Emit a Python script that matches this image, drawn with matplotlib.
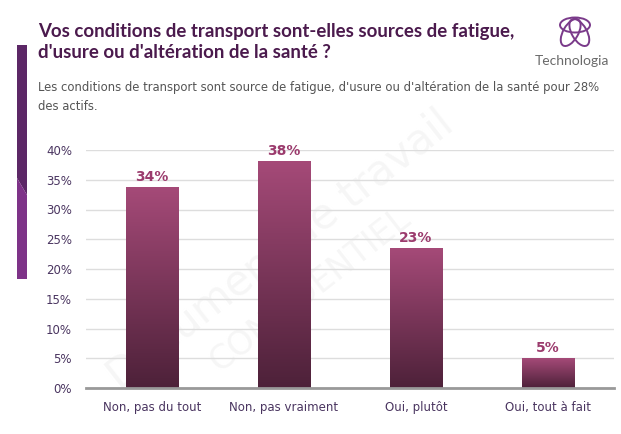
import matplotlib.pyplot as plt
import numpy as np
from matplotlib.colors import LinearSegmentedColormap
from matplotlib.patches import Ellipse, Polygon

plt.rcParams["font.family"] = "DejaVu Sans"

categories = ["Non, pas du tout", "Non, pas vraiment", "Oui, plutôt", "Oui, tout à fait"]
values = [33.7, 38.1, 23.4, 5.0]
labels = ["34%", "38%", "23%", "5%"]
yticks = [0, 5, 10, 15, 20, 25, 30, 35, 40]

title = "Vos conditions de transport sont-elles sources de fatigue,\nd'usure ou d'altération de la santé ?"
subtitle = ("Les conditions de transport sont source de fatigue, d'usure ou d'altération de la santé pour 28%\n"
            "des actifs.")

fig = plt.figure(figsize=(6.21, 4.34), dpi=100)
fig.patch.set_facecolor("white")

# left purple band + logo, drawn in pixel coords
band = fig.add_axes([0, 0, 1, 1], zorder=-1)
band.set_xlim(0, 621)
band.set_ylim(434, 0)
band.axis("off")
band.add_patch(Polygon([(17, 45), (27, 45), (27, 195), (17, 178)], closed=True, color="#5c2766", lw=0))
band.add_patch(Polygon([(17, 178), (27, 195), (27, 279), (17, 279)], closed=True, color="#7e3388", lw=0))

# logo: three interlaced loops
for ang in (90, 210, 330):
    cx = 575 + 5 * np.cos(np.radians(ang))
    cy = 30 - 5 * np.sin(np.radians(ang))
    band.add_patch(Ellipse((cx, cy), 30, 15, angle=ang + 90, fill=False, ec="#7a3a8a", lw=1.4))
band.text(572, 61, "Technologia", ha="center", va="center", fontsize=10, color="#6a6a6a",
          family="Lato")

# very faint watermark
band.text(280, 250, "Document de travail", rotation=38, fontsize=30, color="#f6f6f6",
          ha="center", va="center")
band.text(310, 290, "CONFIDENTIEL", rotation=38, fontsize=24, color="#f6f6f6",
          ha="center", va="center")

fig.text(38 / 621, 1 - 23 / 434, title, ha="left", va="top", fontsize=13.4, fontweight="bold",
         color="#4b1a4d", family="Lato", linespacing=1.32)
fig.text(38 / 621, 1 - 81 / 434, subtitle, ha="left", va="top", fontsize=8.4, color="#555555",
         linespacing=1.6)

ax = fig.add_axes([86 / 621, 1 - 388 / 434, 528 / 621, 238 / 434])
ax.patch.set_alpha(0)
x = np.arange(len(categories))

cmap = LinearSegmentedColormap.from_list("bar", ["#4d2139", "#a54a78"])
grad = np.linspace(0, 1, 256).reshape(-1, 1)
bars = ax.bar(x, values, width=0.4, color="none", zorder=2)
for b, lab in zip(bars, labels):
    x0, w, h = b.get_x(), b.get_width(), b.get_height()
    ax.imshow(grad, extent=[x0, x0 + w, 0, h], origin="lower", cmap=cmap, aspect="auto", zorder=2)
    ax.text(x0 + w / 2, h + 0.6, lab, ha="center", va="bottom", fontsize=10, fontweight="bold",
            color="#9b3b6d", clip_on=False)
ax.set_xlim(-0.5, len(categories) - 0.5)
ax.set_ylim(0, 40)

ax.set_yticks(yticks)
ax.set_yticklabels([f"{t}%" for t in yticks])
ax.set_xticks(x)
ax.set_xticklabels(categories)
ax.grid(axis="y", color="#dddddd", lw=1, zorder=0)
ax.set_axisbelow(True)
for s in ["top", "right", "left"]:
    ax.spines[s].set_visible(False)
ax.spines["bottom"].set_color("#999999")
ax.spines["bottom"].set_linewidth(2)
ax.tick_params(axis="both", length=0, labelsize=8.5, labelcolor="#4a3560")
ax.tick_params(axis="y", pad=10)
ax.tick_params(axis="x", pad=9)

fig.savefig("out.png", dpi=100)
